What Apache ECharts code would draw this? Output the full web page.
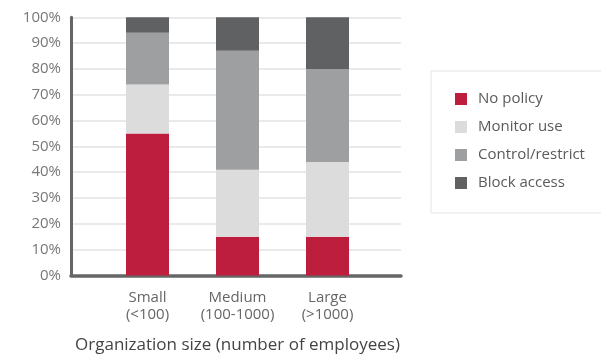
<!DOCTYPE html>
<html>
<head>
<meta charset="utf-8">
<script src="https://cdn.jsdelivr.net/npm/echarts@6/dist/echarts.min.js"></script>
<style>
  html, body { margin: 0; padding: 0; background: #ffffff; }
  #chart { width: 601px; height: 355px; }
</style>
</head>
<body>
<div id="chart"></div>
<script>
// Organization sizes and share of each web-access policy (%)
const categories = ['Small\n(<100)', 'Medium\n(100-1000)', 'Large\n(>1000)'];
const noPolicy = [55, 15, 15];
const monitorUse = [19, 26, 29];
const controlRestrict = [20, 46, 36];
const blockAccess = [6, 13, 20];
const yMin = 0, yMax = 100, yStep = 10;

const FONT = '"Open Sans", "Noto Sans", sans-serif';
const colors = {
  'No policy': '#BE1E3D',
  'Monitor use': '#DCDCDC',
  'Control/restrict': '#9E9FA1',
  'Block access': '#606163'
};

const seriesDefs = [
  ['No policy', noPolicy],
  ['Monitor use', monitorUse],
  ['Control/restrict', controlRestrict],
  ['Block access', blockAccess]
];

const chart = echarts.init(document.getElementById('chart'), null, { renderer: 'canvas' });

chart.setOption({
  animation: false,
  backgroundColor: '#ffffff',
  textStyle: { fontFamily: FONT },
  grid: [
    // frame: percentage axis, gridlines and baseline
    { left: 71, right: 200, top: 17.3, bottom: 79.5, outerBoundsMode: 'none', containLabel: false },
    // bars
    { left: 102.5, right: 228.5, top: 17.3, bottom: 79.5, outerBoundsMode: 'none', containLabel: false }
  ],
  legend: {
    orient: 'vertical',
    left: 431,
    top: 71,
    padding: [20, 60, 22, 24],
    borderColor: '#e4e4e4',
    borderWidth: 1,
    icon: 'rect',
    itemWidth: 12,
    itemHeight: 12,
    itemGap: 12,
    textStyle: { fontFamily: FONT, fontSize: 15, color: '#5a5a5a', lineHeight: 16, padding: [0, 0, 0, 6] },
    data: seriesDefs.map(d => d[0])
  },
  xAxis: [
    {
      gridIndex: 0, type: 'value', min: 0, max: 1,
      axisLine: { show: true, lineStyle: { color: '#656565', width: 3.5 } },
      axisTick: { show: false }, axisLabel: { show: false }, splitLine: { show: false }
    },
    {
      gridIndex: 1, type: 'category', data: categories,
      axisLine: { show: false }, axisTick: { show: false },
      axisLabel: { interval: 0, hideOverlap: false, margin: 14, fontFamily: FONT, fontSize: 15, lineHeight: 17, color: '#666666' },
      name: 'Organization size (number of employees)',
      nameLocation: 'middle', nameGap: 61,
      nameTextStyle: { fontFamily: FONT, fontSize: 17, color: '#444444' }
    }
  ],
  yAxis: [
    {
      gridIndex: 0, type: 'value', min: yMin, max: yMax, interval: yStep,
      axisLine: { show: true, lineStyle: { color: '#656565', width: 3 } },
      axisTick: { show: false },
      axisLabel: { formatter: '{value}%', margin: 10, fontFamily: FONT, fontSize: 15, color: '#777777' },
      splitLine: { show: true, lineStyle: { color: '#e3e3e3', width: 1.5 } }
    },
    {
      gridIndex: 1, type: 'value', min: yMin, max: yMax, show: false
    }
  ],
  series: seriesDefs.map(([name, values]) => ({
    name,
    type: 'bar',
    stack: 'share',
    xAxisIndex: 1,
    yAxisIndex: 1,
    barWidth: 43,
    itemStyle: { color: colors[name] },
    emphasis: { disabled: true },
    data: values
  }))
});
</script>
</body>
</html>
